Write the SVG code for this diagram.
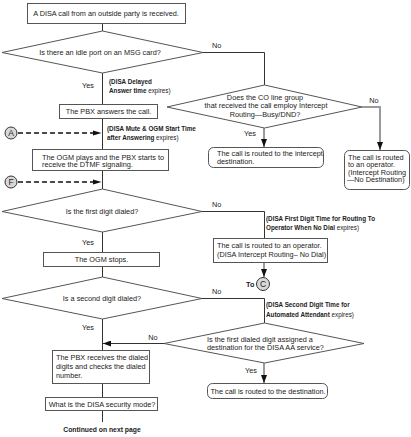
<svg xmlns="http://www.w3.org/2000/svg" width="411" height="437" viewBox="0 0 411 437">
<style>
.t{font-family:"Liberation Sans",Arial,sans-serif;font-size:7.3px;fill:#222}
.a{font-family:"Liberation Sans",Arial,sans-serif;font-size:6.3px;fill:#222}
.m{text-anchor:middle}
.b{font-weight:bold}
.box{fill:#fff;stroke:#555;stroke-width:1}
.ln{stroke:#333;stroke-width:1;fill:none}
.gl{stroke:#9a9a9a;stroke-width:2;fill:none}
.dl{stroke:#111;stroke-width:1.7;stroke-dasharray:5 3;fill:none}
.cir{fill:#d8d8d8;stroke:#333;stroke-width:1}
.cl{font-family:"Liberation Sans",Arial,sans-serif;font-size:8.5px;fill:#222;text-anchor:middle}
</style>
<defs>
<marker id="ah" markerUnits="userSpaceOnUse" markerWidth="8" markerHeight="6" refX="8" refY="3" orient="auto"><path d="M0,0 L8,3 L0,6 Z" fill="#111"/></marker>
</defs>
<rect width="411" height="437" fill="#fff"/>
<g id="connectors">
<path class="ln" d="M102.5,23.5 V31"/>
<path class="ln" d="M102.5,73 V104.5"/>
<path class="ln" d="M102.5,118.5 V149.5"/>
<path class="ln" d="M102.5,170.5 V189"/>
<path class="ln" d="M102.5,232 V252.5"/>
<path class="ln" d="M102.5,266.5 V277"/>
<path class="ln" d="M102.5,319 V350.5"/>
<path class="ln" d="M102.5,383.5 V397.5"/>
<path class="ln" d="M102.5,410.5 V422"/>
<path class="ln" d="M203,52.5 H264.5 V85"/>
<path class="gl" d="M264,128 V147" marker-end="url(#ah)"/>
<path class="gl" d="M362,107 H380 V150" marker-end="url(#ah)"/>
<path class="dl" d="M18,133 H94"/>
<path d="M93,130.5 L101.5,133 L93,135.5 Z" fill="#111"/>
<path class="dl" d="M18,182 H94"/>
<path d="M93,179.5 L101.5,182 L93,184.5 Z" fill="#111"/>
<path class="ln" d="M202,211.5 H264.5 V238.5"/>
<path class="gl" d="M264,262.5 V277" marker-end="url(#ah)"/>
<path class="ln" d="M202,298.5 H264.5 V323"/>
<path class="ln" d="M164,343.5 H103" marker-end="url(#ah)"/>
<path class="gl" d="M264,363 V383" marker-end="url(#ah)"/>
</g>
<g id="start">
<rect class="box" x="27.5" y="3.5" width="158" height="20"/>
<text class="t m" x="106" y="16">A DISA call from an outside party is received.</text>
</g>
<g id="q-idle-port">
<polygon class="box" points="102.5,31 203,52.5 102.5,73 2,52.5"/>
<text class="t m" x="100" y="55">Is there an idle port on an MSG card?</text>
<text class="t" x="212" y="47.5">No</text>
<text class="t m" x="88" y="87.5">Yes</text>
<text class="a" x="109" y="83.5"><tspan class="b">(DISA Delayed</tspan></text>
<text class="a" x="109" y="92.5"><tspan class="b">Answer time</tspan> expires)</text>
</g>
<g id="pbx-answers">
<rect class="box" x="59.5" y="104.5" width="98" height="14"/>
<text class="t m" x="108.5" y="114.2">The PBX answers the call.</text>
</g>
<g id="q-intercept">
<polygon class="box" points="264.5,85 362,107 264.5,128 167,107"/>
<text class="t m" x="265" y="99.6">Does the CO line group</text>
<text class="t m" x="266" y="108.1">that received the call employ Intercept</text>
<text class="t m" x="265" y="116.6">Routing—Busy/DND?</text>
<text class="t m" x="374" y="102.6">No</text>
<text class="t m" x="250" y="135.6">Yes</text>
</g>
<g id="intercept-dest">
<rect class="box" x="208.5" y="147.5" width="115" height="20" rx="5"/>
<text class="t" x="217" y="155.6">The call is routed to the intercept</text>
<text class="t" x="217" y="163.6">destination.</text>
</g>
<g id="operator-nodest">
<rect class="box" x="344.5" y="150.5" width="65" height="39" rx="5"/>
<text class="t" x="348" y="159.6">The call is routed</text>
<text class="t" x="348" y="167.1">to an operator.</text>
<text class="t" x="348" y="174.6">(Intercept Routing</text>
<text class="t" x="347" y="182.1">—No Destination)</text>
</g>
<g id="conn-a">
<circle class="cir" cx="11" cy="133" r="6"/>
<text class="cl" x="11" y="136">A</text>
<text class="a" x="107" y="131"><tspan class="b">(DISA Mute &amp; OGM Start Time</tspan></text>
<text class="a" x="107" y="140"><tspan class="b">after Answering</tspan> expires)</text>
</g>
<g id="ogm-plays">
<rect class="box" x="32.5" y="149.5" width="136" height="21"/>
<text class="t" x="42" y="159.5">The OGM plays and the PBX starts to</text>
<text class="t" x="42" y="167">receive the DTMF signaling.</text>
</g>
<g id="conn-f">
<circle class="cir" cx="11" cy="182" r="6"/>
<text class="cl" x="11" y="185">F</text>
</g>
<g id="q-first-digit">
<polygon class="box" points="102.5,189 202,211.5 102.5,232 2,211.5"/>
<text class="t m" x="102" y="213.5">Is the first digit dialed?</text>
<text class="t" x="212" y="206.5">No</text>
<text class="t m" x="88" y="244.5">Yes</text>
<text class="a" x="266" y="220.5"><tspan class="b">(DISA First Digit Time for Routing To</tspan></text>
<text class="a" x="266" y="230"><tspan class="b">Operator When No Dial</tspan> expires)</text>
</g>
<g id="operator-nodial">
<rect class="box" x="213.5" y="238.5" width="114" height="24"/>
<text class="t" x="217" y="247.5">The call is routed to an operator.</text>
<text class="t" x="217" y="256.5">(DISA Intercept Routing– No Dial)</text>
</g>
<g id="to-c">
<text class="t b" x="246" y="286.5">To</text>
<circle class="cir" cx="263" cy="284" r="6.5"/>
<text class="cl" x="263" y="287">C</text>
</g>
<g id="ogm-stops">
<rect class="box" x="43.5" y="252.5" width="116" height="14"/>
<text class="t m" x="101.5" y="262">The OGM stops.</text>
</g>
<g id="q-second-digit">
<polygon class="box" points="102.5,277 202,298.5 102.5,319 2,298.5"/>
<text class="t m" x="102" y="300.5">Is a second digit dialed?</text>
<text class="t" x="212" y="293.5">No</text>
<text class="t m" x="88" y="329.5">Yes</text>
<text class="a" x="266" y="306.5"><tspan class="b">(DISA Second Digit Time for</tspan></text>
<text class="a" x="266" y="316.5"><tspan class="b">Automated Attendant</tspan> expires)</text>
</g>
<g id="q-aa-dest">
<polygon class="box" points="264.5,323 364,343.5 264.5,363 164,343.5"/>
<text class="t" x="207" y="341.6">Is the first dialed digit assigned a</text>
<text class="t" x="207" y="349.8">destination for the DISA AA service?</text>
<text class="t m" x="153" y="339.5">No</text>
<text class="t m" x="251" y="372.5">Yes</text>
</g>
<g id="routed-dest">
<rect class="box" x="207.5" y="383.5" width="120" height="15" rx="5"/>
<text class="t m" x="268" y="393.6">The call is routed to the destination.</text>
</g>
<g id="pbx-receives">
<rect class="box" x="52.5" y="350.5" width="97" height="33"/>
<text class="t" x="56" y="359.5">The PBX receives the dialed</text>
<text class="t" x="56" y="368.5">digits and checks the dialed</text>
<text class="t" x="56" y="377.5">number.</text>
</g>
<g id="security-mode">
<rect class="box" x="45.5" y="397.5" width="112" height="13"/>
<text class="t m" x="102" y="406.6">What is the DISA security mode?</text>
</g>
<g id="continued">
<text class="t m b" x="102" y="432" style="font-size:6.8px">Continued on next page</text>
</g>
</svg>
